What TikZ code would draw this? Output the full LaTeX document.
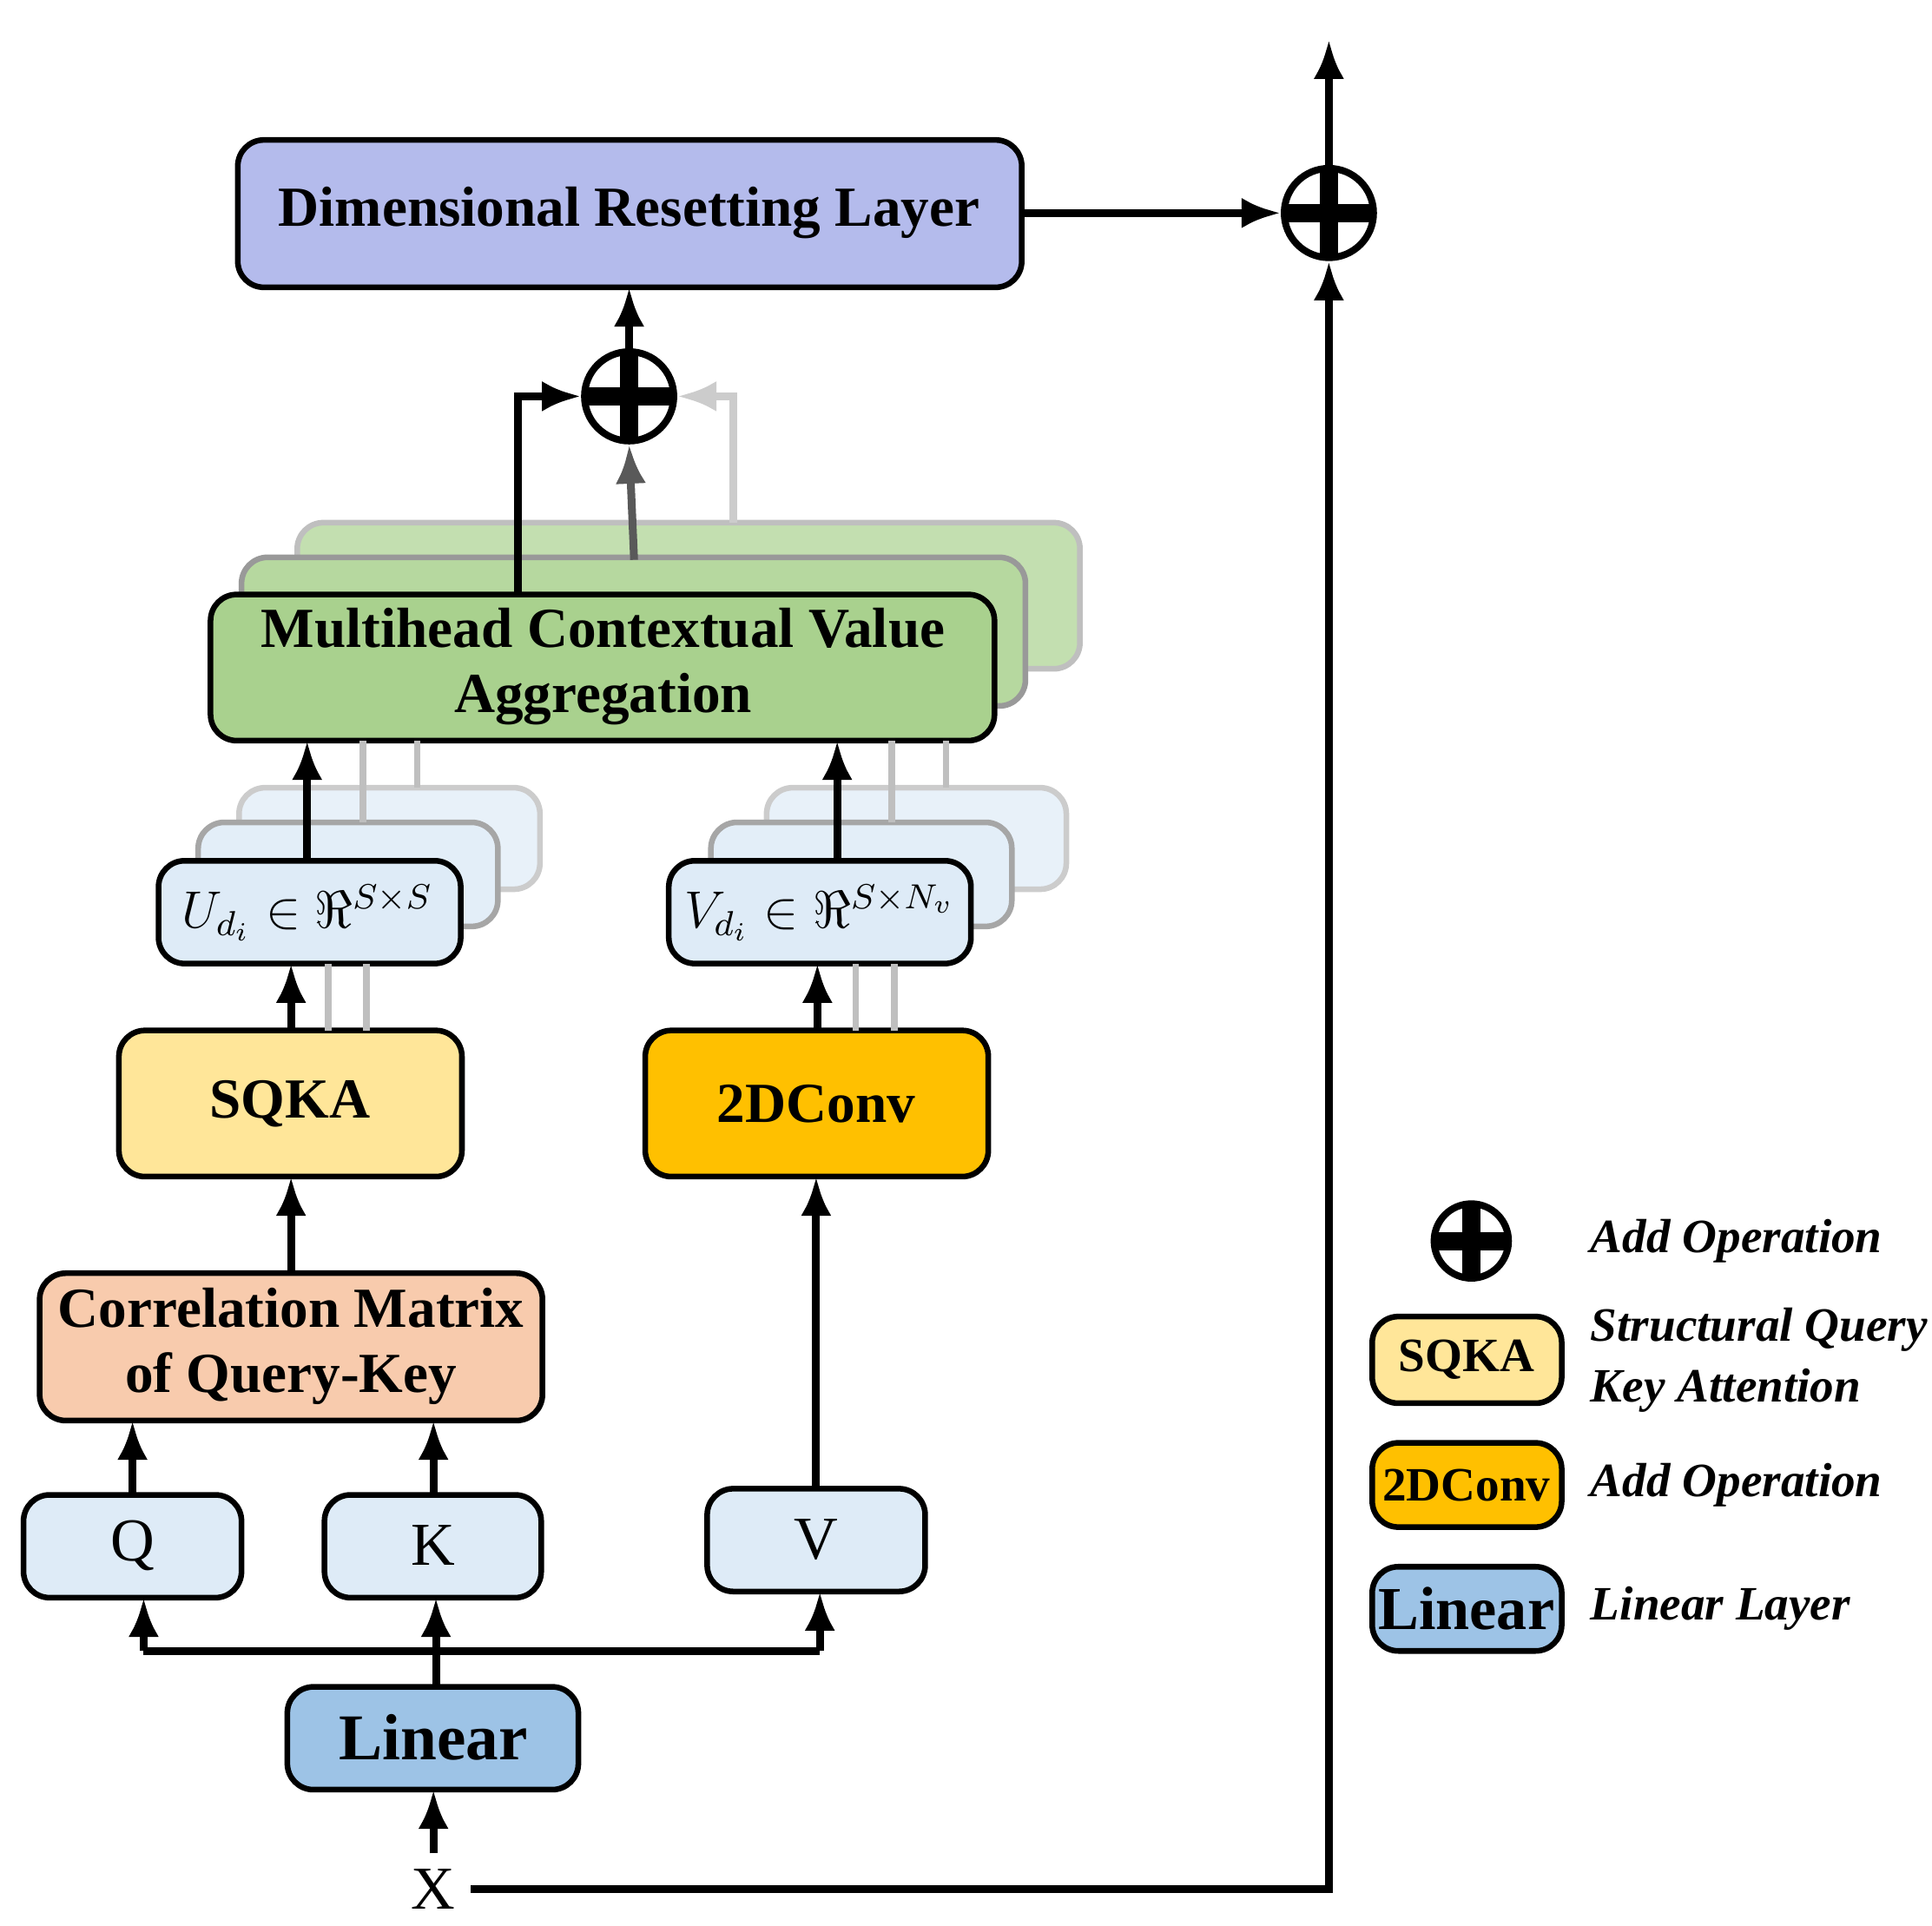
\documentclass[tikz,border=0pt]{standalone}
\usepackage{fontspec}
\setmainfont{Liberation Serif}
\usetikzlibrary{arrows.meta}
\definecolor{lav}{HTML}{B4BBEC}
\definecolor{grn}{HTML}{A9D18E}
\definecolor{lbl}{HTML}{DEEBF7}
\definecolor{ylw}{HTML}{FFE699}
\definecolor{org}{HTML}{FFC000}
\definecolor{pch}{HTML}{F8CBAD}
\definecolor{mbl}{HTML}{9DC3E6}
\begin{document}
\begin{tikzpicture}[x=0.01cm,y=-0.01cm,
 box/.style={draw=black,line width=1.3pt,rounded corners=6pt},
 ar/.style={line width=1.8pt,-{Latex[length=9pt,width=7pt]}},
 ln/.style={line width=1.8pt},
 gl/.style={line width=1.5pt,black!25},
 addop/.style={circle,draw=black,fill=white,line width=1.6pt,minimum size=#1,inner sep=0pt,
   path picture={\fill[black] ([xshift=-0.5*#1,yshift=-2.1pt]path picture bounding box.center) rectangle ([xshift=0.5*#1,yshift=2.1pt]path picture bounding box.center);
   \fill[black] ([yshift=-0.5*#1,xshift=-2.1pt]path picture bounding box.center) rectangle ([yshift=0.5*#1,xshift=2.1pt]path picture bounding box.center);}},
 bt/.style={font=\fontsize{13}{15}\selectfont\bfseries},
 lt/.style={font=\fontsize{11}{14}\selectfont\bfseries\itshape,anchor=west,align=left}]
\useasboundingbox (0,0) rectangle (1560,1555);
% top
\path[box,fill=lav] (192,113) rectangle (825,232);
\node[bt] (drlt) at (508,172) {Dimensional Resetting Layer};
\coordinate (drlR) at (825,172); \coordinate (drlB) at (508,232);
\node[addop=0.72cm] (a1) at (1073,172) {};
\node[addop=0.72cm] (a2) at (508,320) {};
\coordinate (top) at (1073,32);
\draw[ar] (a1.north) -- (top);
\draw[ar] (drlR) -- (a1.west);
\draw[ar] (a2.north) -- (drlB);
% green stack
\path[box,fill=grn!70,draw=black!25] (240,422) rectangle (872,540);
\path[box,fill=grn!85,draw=black!40] (195,450) rectangle (828,570);
\path[box,fill=grn] (170,480) rectangle (803,598);
\node[bt,align=center] (mh) at (487,538) {Multihead Contextual Value\\Aggregation};
\coordinate (g1) at (418,480); \coordinate (g2) at (512,452); \coordinate (g3) at (592,422);
\draw[ar] (g1) |- (a2.west);
\draw[ar,black!65] (g2) -- (a2.south);
\draw[ar,black!20] (g3) |- (a2.east);
% U stack
\path[box,fill=lbl!70,draw=black!20] (193,636) rectangle (436,718);
\path[box,fill=lbl!85,draw=black!35] (160,664) rectangle (402,748);
\path[box,fill=lbl] (128,695) rectangle (372,778);
\node (u) at (248,737) {\fontsize{12}{14}\selectfont $U_{d_i}\in\Re^{S\times S}$};
\path[box,fill=lbl!70,draw=black!20] (619,636) rectangle (861,718);
\path[box,fill=lbl!85,draw=black!35] (574,664) rectangle (817,748);
\path[box,fill=lbl] (540,695) rectangle (784,778);
\node (v) at (662,737) {\fontsize{12}{14}\selectfont $V_{d_i}\in\Re^{S\times N_v}$};
\draw[gl] (293,664) -- (293,598); \draw[gl] (337,636) -- (337,598);
\draw[gl] (720,664) -- (720,598); \draw[gl] (764,636) -- (764,598);
\draw[ar] (248,695) -- (248,598);
\draw[ar] (676,695) -- (676,598);
% SQKA, 2DConv
\path[box,fill=ylw] (96,832) rectangle (373,950);
\node[bt] (sq) at (234,891) {SQKA};
\path[box,fill=org] (521,832) rectangle (798,950);
\node[bt] (cv) at (659,891) {2DConv};
\draw[gl] (265,832) -- (265,778); \draw[gl] (296,832) -- (296,778);
\draw[gl] (691,832) -- (691,778); \draw[gl] (722,832) -- (722,778);
\draw[ar] (235,832) -- (235,778);
\draw[ar] (660,832) -- (660,778);
% correlation
\path[box,fill=pch] (32,1028) rectangle (438,1147);
\node[bt,align=center] (cm) at (235,1087) {Correlation Matrix\\of Query-Key};
\draw[ar] (235,1028) -- (235,950);
% QKV
\path[box,fill=lbl] (19,1207) rectangle (195,1290);
\node[font=\fontsize{14}{16}\selectfont] (q) at (107,1248) {Q};
\path[box,fill=lbl] (262,1207) rectangle (437,1290);
\node[font=\fontsize{14}{16}\selectfont] (k) at (350,1248) {K};
\path[box,fill=lbl] (571,1202) rectangle (747,1285);
\node[font=\fontsize{14}{16}\selectfont] (vv) at (659,1243) {V};
\draw[ar] (107,1207) -- (107,1147);
\draw[ar] (350,1207) -- (350,1147);
\draw[ar] (659,1202) -- (659,950);
% linear
\path[box,fill=mbl] (232,1362) rectangle (467,1445);
\node[font=\fontsize{15}{17}\selectfont\bfseries] (lin) at (350,1403) {Linear};
\draw[ln] (352,1362) -- (352,1333);
\draw[ln] (116,1333) -- (662,1333);
\draw[ar] (116,1333) -- (116,1290);
\draw[ar] (352,1333) -- (352,1290);
\draw[ar] (662,1333) -- (662,1285);
\node[font=\fontsize{14}{16}\selectfont] (x) at (350,1525) {X};
\draw[ar] (x.north) -- (350,1445);
\draw[ar] (x.east) -- (1073,1525) -- (a1.south);
% legend
\node[addop=0.6cm] (la) at (1188,1002) {};
\node[lt] at (1272,1002) {Add Operation};
\path[box,fill=ylw] (1108,1063) rectangle (1261,1133);
\node[font=\fontsize{11}{13}\selectfont\bfseries] at (1184,1098) {SQKA};
\node[lt] at (1272,1098) {Structural Query\\Key Attention};
\path[box,fill=org] (1108,1165) rectangle (1261,1233);
\node[font=\fontsize{11}{13}\selectfont\bfseries] at (1184,1199) {2DConv};
\node[lt] at (1272,1199) {Add Operation};
\path[box,fill=mbl] (1108,1265) rectangle (1261,1333);
\node[font=\fontsize{14}{16}\selectfont\bfseries] at (1184,1299) {Linear};
\node[lt] at (1272,1299) {Linear Layer};
\end{tikzpicture}
\end{document}
